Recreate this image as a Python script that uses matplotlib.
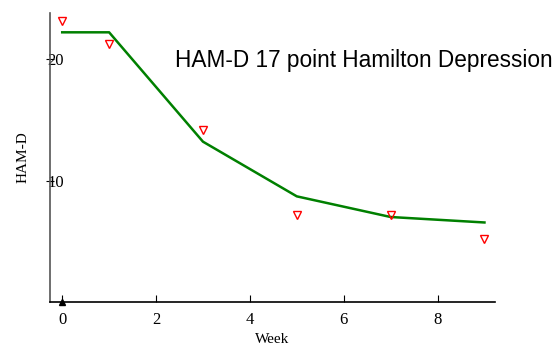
import matplotlib.pyplot as plt

# dados
semanas = [0, 1, 3, 5, 7, 9]
ham_d_obs = [23.1, 21.2, 14.2, 7.2, 7.2, 5.2]
ham_d_fit = [22.2, 22.2, 13.2, 8.7, 7.0, 6.55]

fig = plt.figure(figsize=(5.57, 3.48), dpi=100)
ax = fig.add_axes([0.0898, 0.132, 0.7985, 0.831])

ax.plot(semanas, ham_d_fit, color='green', linewidth=1.8)
ax.plot(semanas, ham_d_obs, linestyle='none', marker='v', markersize=6,
        markerfacecolor='none', markeredgecolor='red', markeredgewidth=1)
ax.plot([0], [0], linestyle='none', marker='^', markersize=5, color='black', clip_on=False)

ax.set_xlim(-0.26, 9.22)
ax.set_ylim(0, 23.8)
ax.set_xticks([0, 2, 4, 6, 8])
ax.set_yticks([10, 20])

for s in ['top', 'right']:
    ax.spines[s].set_visible(False)
ax.spines['left'].set_color('#555555')
ax.spines['left'].set_linewidth(1.2)
ax.spines['bottom'].set_linewidth(1.2)

ax.tick_params(axis='x', direction='in', length=5, pad=7)
ax.tick_params(axis='y', direction='inout', length=6, pad=-13)
for lab in ax.get_xticklabels() + ax.get_yticklabels():
    lab.set_family('Liberation Serif')
    lab.set_fontsize(12)

ax.set_xlabel('Week', family='Liberation Serif', fontsize=11, labelpad=4)
ax.set_ylabel('HAM-D', family='Liberation Serif', fontsize=11, labelpad=12)

fig.text(175 / 557, 1 - 60 / 348, 'HAM-D 17 point Hamilton Depression',
         family='Liberation Sans', fontsize=16.3, va='center', ha='left')

fig.savefig('out.png', dpi=100)
